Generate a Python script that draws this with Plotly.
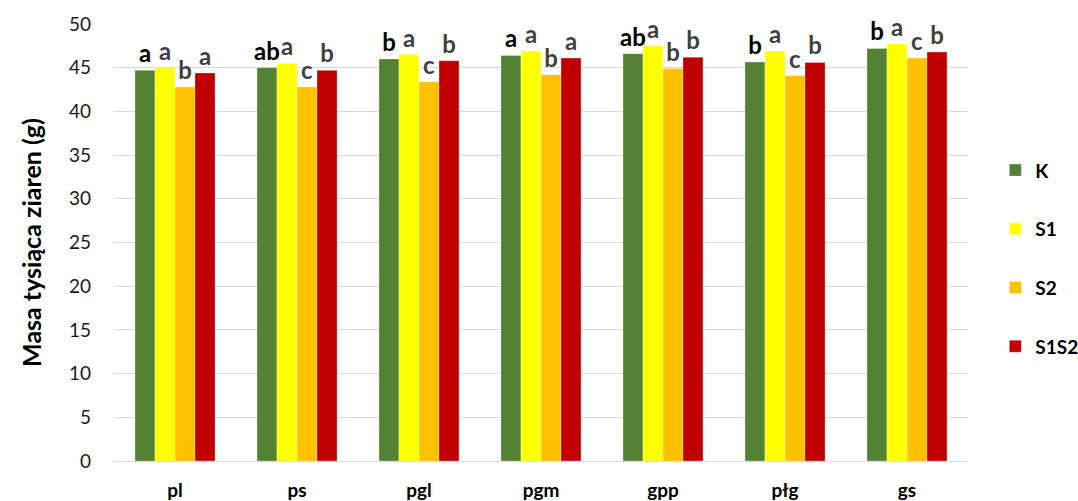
import plotly.graph_objects as go

categories = ["pl", "ps", "pgl", "pgm", "gpp", "płg", "gs"]
series_names = ["K", "S1", "S2", "S1S2"]
K_vals = [44.7, 45.0, 46.0, 46.4, 46.6, 45.65, 47.2]
S1_vals = [45.0, 45.5, 46.5, 46.9, 47.5, 46.9, 47.7]
S2_vals = [42.8, 42.8, 43.4, 44.2, 44.9, 44.1, 46.1]
S1S2_vals = [44.4, 44.7, 45.8, 46.1, 46.2, 45.6, 46.8]
K_labels = ["a", "ab", "b", "a", "ab", "b", "b"]
S1_labels = ["a", "a", "a", "a", "a", "a", "a"]
S2_labels = ["b", "c", "c", "b", "b", "c", "c"]
S1S2_labels = ["a", "b", "b", "a", "b", "b", "b"]
y_ticks = [0, 5, 10, 15, 20, 25, 30, 35, 40, 45, 50]

colors = ["#548235", "#FFFF00", "#FFC000", "#C00000"]
label_colors = ["#000000", "#404040", "#404040", "#404040"]
FONT = "Lato, Open Sans, sans-serif"

fig = go.Figure()
for i, (name, vals, labs) in enumerate(zip(
        series_names,
        [K_vals, S1_vals, S2_vals, S1S2_vals],
        [K_labels, S1_labels, S2_labels, S1S2_labels])):
    fig.add_trace(go.Bar(
        x=categories, y=vals, name=name, text=labs,
        textposition="outside", cliponaxis=False, constraintext="none",
        textangle=0,
        textfont=dict(family=FONT, size=24, color=label_colors[i], weight="bold"),
        marker=dict(color=colors[i], line=dict(color="rgba(255,255,255,0.6)", width=0.5)),
        legendgroup=name,
    ))

fig.update_layout(
    width=1078, height=501,
    margin=dict(l=114, r=110, t=24, b=40, autoexpand=False),
    paper_bgcolor="white", plot_bgcolor="white",
    barmode="group", bargap=0.344, bargroupgap=0,
    font=dict(family=FONT, color="#000000"),
    showlegend=True,
    legend=dict(x=1.032, y=0.464, xanchor="left", yanchor="middle",
                font=dict(family=FONT, size=19, color="#000000", weight="bold"),
                tracegroupgap=31, itemwidth=30,
                bgcolor="rgba(0,0,0,0)"),
    uniformtext=dict(mode=False),
)
fig.update_xaxes(
    automargin=False,
    showgrid=False, showline=True, linecolor="#d9d9d9", linewidth=1,
    ticks="", ticklabelstandoff=12,
    tickfont=dict(family=FONT, size=19, color="#000000", weight="bold"),
)
fig.update_yaxes(
    automargin=False,
    range=[0, 50], tickvals=y_ticks, showgrid=True, gridcolor="#d9d9d9", gridwidth=1,
    zeroline=False, showline=False, ticks="", ticklabelstandoff=22,
    tickfont=dict(family=FONT, size=19, color="#1a1a1a"),
    title=dict(text="Masa tysiąca ziaren (g)", standoff=20,
               font=dict(family=FONT, size=25, color="#000000", weight="bold")),
)

# remove the default page margin so the figure fills the window exactly
fig.write_html("out.html", config={"displayModeBar": False},
               post_script="document.body.style.margin='0';document.body.style.overflow='hidden';")
